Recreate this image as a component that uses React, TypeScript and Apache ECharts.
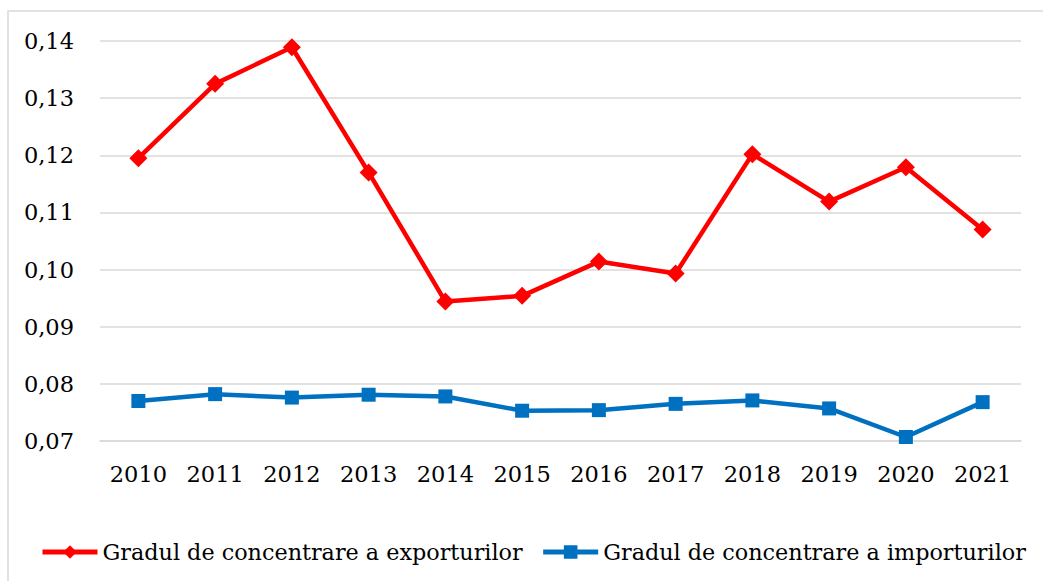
import React, { useEffect, useRef } from "react";
import * as echarts from "echarts";

const years = ["2010", "2011", "2012", "2013", "2014", "2015", "2016", "2017", "2018", "2019", "2020", "2021"];
const exportConc = [0.1195, 0.1325, 0.1389, 0.117, 0.0944, 0.0954, 0.1014, 0.0993, 0.1202, 0.1119, 0.1179, 0.107];
const importConc = [0.077, 0.0782, 0.0776, 0.0781, 0.0778, 0.0753, 0.0754, 0.0765, 0.0771, 0.0757, 0.0707, 0.0768];
const seriesNames = ["Gradul de concentrare a exporturilor", "Gradul de concentrare a importurilor"];

const FONT = "'DejaVu Serif', serif";

export default function App() {
  const ref = useRef<HTMLDivElement>(null);
  useEffect(() => {
    if (!ref.current) return;
    const chart = echarts.init(ref.current, null, { renderer: "svg" });
    chart.setOption({
      animation: false,
      backgroundColor: "#ffffff",
      graphic: [
        {
          type: "rect",
          shape: { x: 8, y: 11, width: 1200, height: 800 },
          style: { fill: "none", stroke: "#d9d9d9", lineWidth: 1.5 },
          silent: true,
        },
      ],
      grid: { left: 100, right: 22, top: 41, bottom: 140, containLabel: false },
      xAxis: {
        type: "category",
        data: years,
        boundaryGap: true,
        axisLine: { show: true, lineStyle: { color: "#d9d9d9", width: 1.5 } },
        axisTick: { show: false },
        axisLabel: { color: "#000", fontFamily: FONT, fontSize: 22.5, margin: 21 },
      },
      yAxis: {
        type: "value",
        min: 0.07,
        max: 0.14,
        interval: 0.01,
        axisLine: { show: false },
        axisTick: { show: false },
        splitLine: { lineStyle: { color: "#d9d9d9", width: 1.5 } },
        axisLabel: {
          color: "#000",
          fontFamily: FONT,
          fontSize: 22.5,
          margin: 26,
          formatter: (v: number) => v.toFixed(2).replace(".", ","),
        },
      },
      legend: {
        top: 541,
        left: 40,
        width: 1040,
        padding: 0,
        itemWidth: 55,
        itemHeight: 17,
        itemGap: 18,
        lineStyle: { width: 5 },
        textStyle: { color: "#000", fontFamily: FONT, fontSize: 22.3 },
        data: seriesNames,
      },
      series: [
        {
          name: seriesNames[0],
          type: "line",
          data: exportConc,
          symbol: "diamond",
          symbolSize: 18,
          lineStyle: { color: "#ff0000", width: 4.5 },
          itemStyle: { color: "#ff0000" },
        },
        {
          name: seriesNames[1],
          type: "line",
          data: importConc,
          symbol: "rect",
          symbolSize: 14,
          lineStyle: { color: "#0070c0", width: 4.5 },
          itemStyle: { color: "#0070c0" },
        },
      ],
    });
    return () => chart.dispose();
  }, []);
  return (
    <div
      ref={ref}
      style={{ position: "fixed", left: 0, top: 0, width: 1043, height: 581, background: "#fff" }}
    />
  );
}
